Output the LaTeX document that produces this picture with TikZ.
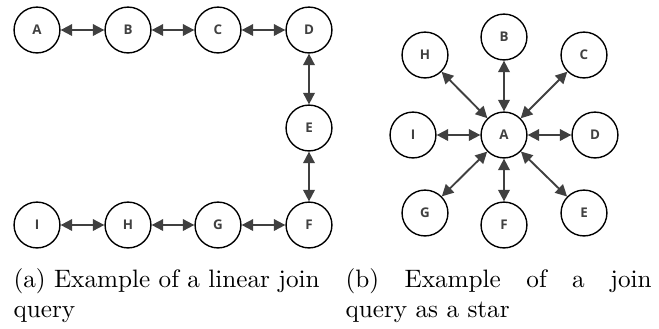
\documentclass[tikz,border=0pt]{standalone}
\usepackage{fontspec}
\newfontfamily\nodefont{Open Sans}
\usetikzlibrary{arrows.meta}
\definecolor{dg}{HTML}{404040}
\tikzset{
  x=0.3968pt, y=-0.3968pt,
  qn/.style={circle, draw=black, line width=0.55pt, minimum size=18.2pt, inner sep=0pt,
    font=\nodefont\bfseries\fontsize{5.3}{6}\selectfont, text=dg},
  link/.style={draw=dg, line width=0.75pt,
    {Triangle[length=4.6pt,width=4.6pt]}-{Triangle[length=4.6pt,width=4.6pt]}},
  captext/.style={anchor=base west, inner sep=0pt}
}
\begin{document}
\begin{tikzpicture}
\useasboundingbox (0,0) rectangle (659,328);
% linear join
\node[qn] (la) at (37,30) {A};
\node[qn] (lb) at (128,30) {B};
\node[qn] (lc) at (218,30) {C};
\node[qn] (ld) at (309,30) {D};
\node[qn] (le) at (309,128) {E};
\node[qn] (lf) at (309,225) {F};
\node[qn] (lg) at (218,225) {G};
\node[qn] (lh) at (128,225) {H};
\node[qn] (li) at (37,225) {I};
\draw[link] (la) -- (lb);
\draw[link] (lb) -- (lc);
\draw[link] (lc) -- (ld);
\draw[link] (ld) -- (le);
\draw[link] (le) -- (lf);
\draw[link] (lf) -- (lg);
\draw[link] (lg) -- (lh);
\draw[link] (lh) -- (li);
% star
\node[qn] (sa) at (504,135) {A};
\node[qn] (sb) at (504,37) {B};
\node[qn] (sc) at (584,55) {C};
\node[qn] (sd) at (595,135) {D};
\node[qn] (se) at (584,213) {E};
\node[qn] (sf) at (504,225) {F};
\node[qn] (sg) at (425,213) {G};
\node[qn] (sh) at (425,55) {H};
\node[qn] (si) at (413,135) {I};
\foreach \t in {sb,sc,sd,se,sf,sg,sh,si} \draw[link] (sa) -- (\t);
% captions
\node[captext] (capa) at (13,287) {\parbox[t]{121.5pt}{(a) Example of a linear join\linebreak query}};
\node[captext] (capb) at (345,287) {\parbox[t]{121.5pt}{(b) Example of a join\linebreak query as a star}};
\end{tikzpicture}
\end{document}
